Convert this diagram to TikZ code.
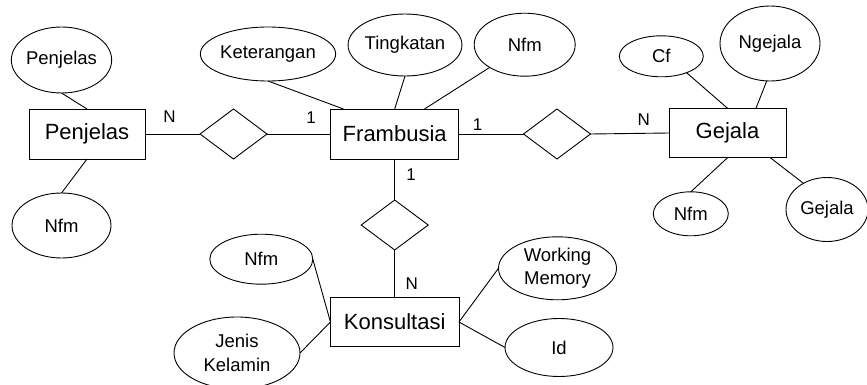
\documentclass[tikz,border=0pt]{standalone}
\usepackage{fontspec}
\setmainfont{Liberation Sans}
\usetikzlibrary{shapes.geometric}
\begin{document}
\begin{tikzpicture}[x=1pt,y=-1pt,
  entity/.style={draw, line width=0.9pt, rectangle, inner sep=0pt, outer sep=0pt,
    font=\fontsize{22}{24}\selectfont},
  attr/.style={draw, line width=0.9pt, ellipse, inner sep=0pt, outer sep=0pt,
    align=center, font=\fontsize{18.5}{23.5}\selectfont},
  rel/.style={draw, line width=0.9pt, diamond, inner sep=0pt, outer sep=0pt,
    minimum width=67pt, minimum height=50pt},
  card/.style={inner sep=0pt, font=\fontsize{17}{19}\selectfont},
  link/.style={line width=0.9pt}
]
\useasboundingbox (0,0) rectangle (867,385);
\clip (0,0) rectangle (867,385);

% entities
\node[entity, minimum width=116pt, minimum height=50pt] (P) at (87,134) {Penjelas};
\node[entity, minimum width=128pt, minimum height=50pt] (F) at (394.7,134) {Frambusia};
\node[entity, minimum width=117pt, minimum height=49.5pt] (G) at (727.5,133) {Gejala};
\node[entity, minimum width=128.5pt, minimum height=49.5pt] (Ko) at (394.7,322) {Konsultasi};

% relationships
\node[rel] (D1) at (233.5,134) {};
\node[rel] (D2) at (557,134) {};
\node[rel] (D3) at (394.7,225) {};

% attributes
\node[attr, minimum width=99pt, minimum height=66pt] (pa) at (61.5,60) {Penjelas};
\node[attr, minimum width=99pt, minimum height=65pt] (pn) at (61.5,225.5) {Nfm};
\node[attr, minimum width=130pt, minimum height=54pt] (ket) at (268,54) {Keterangan};
\node[attr, minimum width=111pt, minimum height=62pt] (ting) at (405,45) {Tingkatan};
\node[attr, minimum width=101pt, minimum height=63pt] (fn) at (524.7,44.7) {Nfm};
\node[attr, minimum width=84pt, minimum height=41pt] (cf) at (661.3,56.3) {Cf};
\node[attr, minimum width=100pt, minimum height=75pt] (ngj) at (770,43.5) {Ngejala};
\node[attr, minimum width=75pt, minimum height=44pt] (gn) at (690.8,213.8) {Nfm};
\node[attr, minimum width=82pt, minimum height=64pt] (gga) at (827,209.5) {Gejala};
\node[attr, minimum width=103pt, minimum height=50pt] (kn) at (261.3,259.2) {Nfm};
\node[attr, minimum width=126pt, minimum height=72pt] (jk) at (237,353) {Jenis\\Kelamin};
\node[attr, minimum width=118pt, minimum height=63pt] (wm) at (557.5,268.3) {Working\\Memory};
\node[attr, minimum width=108pt, minimum height=58pt] (id) at (559,347.5) {Id};

% relationship lines
\draw[link] (P.east) -- (D1.west);
\draw[link] (D1.east) -- (F.west);
\draw[link] (F.east) -- (D2.west);
\draw[link] (D2.east) -- (G.west);
\draw[link] (F.south) -- (D3.north);
\draw[link] (D3.south) -- (Ko.north);

% attribute lines
\draw[link] (pa.south) -- (P.north);
\draw[link] (P.south) -- (pn.north);
\draw[link] (ket.south) -- (F.154.6);
\draw[link] (ting.south) -- (F.north);
\draw[link] (fn.213.5) -- (F.40.5);
\draw[link] (cf.-33) -- (G.north);
\draw[link] (ngj.-95) -- (G.41);
\draw[link] (G.south) -- (gn.north);
\draw[link] (G.-30.2) -- (gga.132);
\draw[link] (kn.east) -- (Ko.west);
\draw[link] (jk.east) -- (Ko.west);
\draw[link] (wm.west) -- (Ko.east);
\draw[link] (Ko.east) -- (id.west);

% cardinalities
\node[card] (c1) at (169.5,117) {N};
\node[card] (c2) at (311,117.5) {1};
\node[card] (c3) at (477.7,125) {1};
\node[card] (c4) at (643.8,120) {N};
\node[card] (c5) at (411,174.7) {1};
\node[card] (c6) at (411.7,283.5) {N};
\end{tikzpicture}
\end{document}
